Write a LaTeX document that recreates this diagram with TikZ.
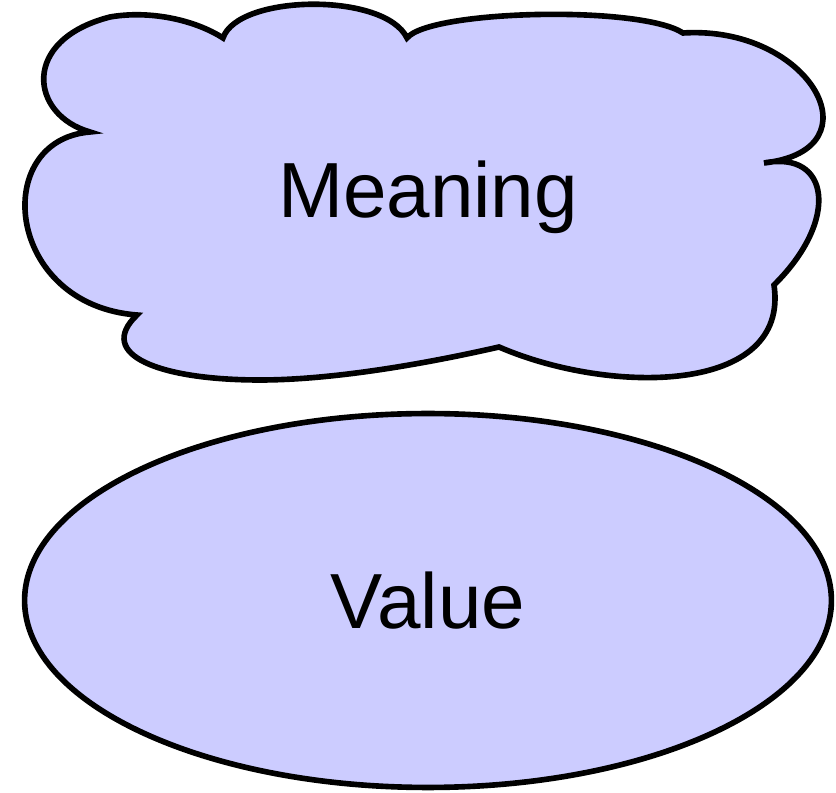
\documentclass[tikz,border=0pt]{standalone}
\usepackage{fontspec}
\setmainfont{Liberation Sans}
\usetikzlibrary{shapes.geometric}
\definecolor{lavender}{HTML}{CCCCFF}

\begin{document}
\begin{tikzpicture}[x=0.02cm,y=-0.02cm,
  outl/.style={draw=black,line width=3.2pt,fill=lavender},
  val/.style={outl,ellipse,minimum width=16.14cm,minimum height=7.48cm,inner sep=0pt,
    font=\fontsize{44.5}{50}\selectfont},
  lbl/.style={inner sep=0pt,anchor=base,font=\fontsize{44.5}{50}\selectfont}]
\useasboundingbox (0,0) rectangle (836,793);
% cloud outline, lobe by lobe from the top-left notch
\draw[outl] (223,38)
  .. controls (238,-6) and (385,-8) .. (407,38)
  .. controls (430,10) and (640,5) .. (683,33)
  .. controls (810,25) and (880,150) .. (764,163)
  .. controls (830,150) and (840,220) .. (774,285)
  .. controls (790,395) and (610,395) .. (499,347)
  .. controls (420,365) and (330,380) .. (260,380)
  .. controls (160,380) and (95,355) .. (137,315)
  .. controls (5,305) and (-10,140) .. (90,132)
  .. controls (30,115) and (20,40) .. (110,17)
  .. controls (150,10) and (195,20) .. cycle;
\node[lbl] (meaning) at (428,218) {Meaning};
\node[val] (value) at (428,600.5) {Value};
\end{tikzpicture}
\end{document}
